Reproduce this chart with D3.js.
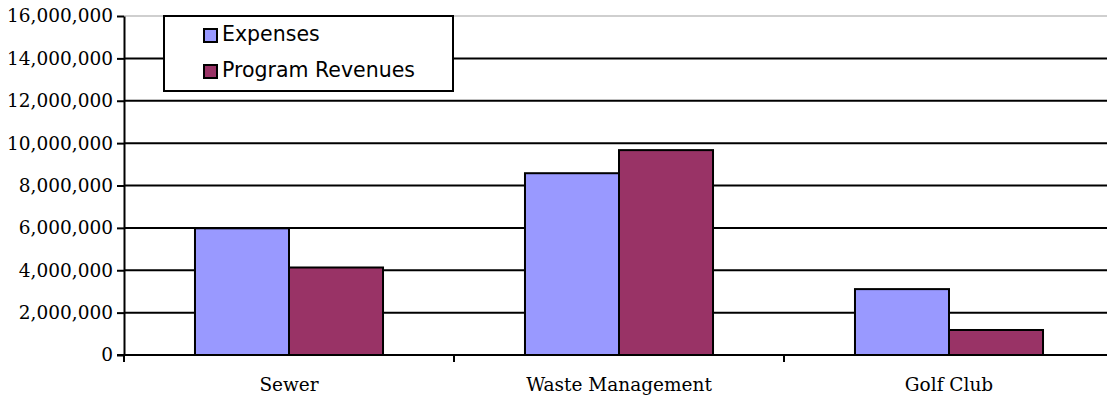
<!DOCTYPE html>
<html><head><meta charset="utf-8">
<script src="https://cdn.jsdelivr.net/npm/d3@7"></script>
<style>body{margin:0;background:#fff}svg{display:block}</style>
</head><body>
<svg id="c" width="1107" height="400"></svg>
<script>
const categories = ["Sewer", "Waste Management", "Golf Club"];
const seriesNames = ["Expenses", "Program Revenues"];
const expenses = [5980000, 8580000, 3110000];
const revenues = [4130000, 9670000, 1180000];
const yTicks = [0, 2000000, 4000000, 6000000, 8000000, 10000000, 12000000, 14000000, 16000000];
const colors = ["#9999ff", "#993366"];

(function () {
const svg = d3.select("#c");
const mLeft = 124, mRight = 1114, mTop = 16, mBottom = 355;
const x = d3.scaleBand().domain(categories).range([mLeft, mRight]);
const xs = d3.scaleBand().domain(seriesNames).range([0, x.bandwidth()]).paddingInner(0).paddingOuter(0.755);
const y = d3.scaleLinear().domain([0, 16000000]).range([mBottom, mTop]);
const fmt = d3.format(",");
const serif = "DejaVu Serif, serif";

// gridlines
svg.append("g").selectAll("line").data(yTicks.filter(d => d > 0)).join("line")
  .attr("x1", mLeft).attr("x2", 1107)
  .attr("y1", d => y(d)).attr("y2", d => y(d))
  .attr("stroke", d => d === 16000000 ? "#cfcfcf" : "#000")
  .attr("stroke-width", 2);

// bars
const g = svg.append("g");
categories.forEach((c, i) => {
  [expenses[i], revenues[i]].forEach((v, j) => {
    g.append("rect")
      .attr("x", x(c) + xs(seriesNames[j]))
      .attr("y", y(v))
      .attr("width", xs.bandwidth())
      .attr("height", y(0) - y(v))
      .attr("fill", colors[j])
      .attr("stroke", "#000").attr("stroke-width", 2);
  });
});

// y axis
const ya = svg.append("g").attr("transform", `translate(${mLeft},0)`)
  .call(d3.axisLeft(y).tickValues(yTicks).tickFormat(fmt).tickSize(7).tickSizeOuter(0));
ya.attr("font-family", serif).attr("font-size", 18.5);
ya.select(".domain").attr("stroke", "#000").attr("stroke-width", 2);
ya.selectAll(".tick line").attr("stroke", "#000").attr("stroke-width", 2);
ya.selectAll("text").attr("fill", "#000").attr("x", -11);

// x axis
const xa = svg.append("g").attr("transform", `translate(0,${mBottom})`);
xa.append("line").attr("x1", mLeft - 7).attr("x2", 1107).attr("y1", 0).attr("y2", 0).attr("stroke", "#000").attr("stroke-width", 2);
const bounds = categories.map(c => x(c));
xa.selectAll("line.tk").data(bounds).join("line").attr("class", "tk")
  .attr("x1", d => d).attr("x2", d => d).attr("y1", 0).attr("y2", 7).attr("stroke", "#000").attr("stroke-width", 2);
xa.selectAll("text").data(categories).join("text")
  .attr("x", d => x(d) + x.bandwidth() / 2).attr("y", 36)
  .attr("text-anchor", "middle")
  .attr("font-family", serif).attr("font-size", 18.5).text(d => d);

// legend
const lg = svg.append("g");
lg.append("rect").attr("x", 164).attr("y", 16).attr("width", 289).attr("height", 75)
  .attr("fill", "#fff").attr("stroke", "#000").attr("stroke-width", 2);
seriesNames.forEach((s, i) => {
  const base = 41 + i * 36;
  lg.append("rect").attr("x", 204).attr("y", base - 12).attr("width", 13).attr("height", 13)
    .attr("fill", colors[i]).attr("stroke", "#000").attr("stroke-width", 2);
  lg.append("text").attr("x", 222).attr("y", base).attr("font-family", "DejaVu Sans, sans-serif")
    .attr("font-size", 20.5).text(s);
});
})();
</script>
</body></html>
